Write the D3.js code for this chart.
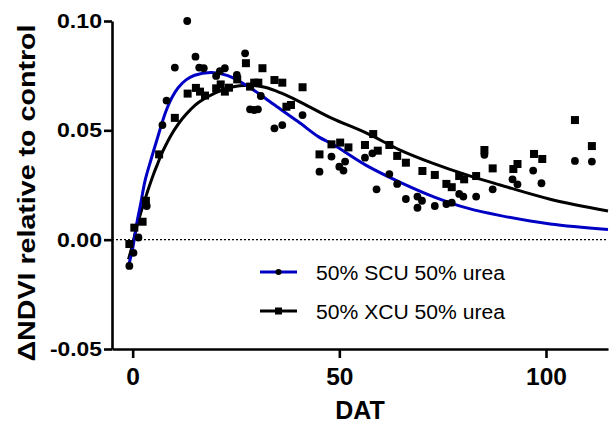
<!DOCTYPE html>
<html>
<head>
<meta charset="utf-8">
<script src="https://cdn.jsdelivr.net/npm/d3@7"></script>
<style>
  html, body { margin: 0; padding: 0; background: #fff; }
  svg { display: block; font-family: "Liberation Sans", Arial, sans-serif; }
</style>
</head>
<body>
<svg id="chart" width="614" height="423"></svg>
<script>
// NDVI difference vs control over days after treatment (DAT)
// 50% SCU 50% urea (circles) and 50% XCU 50% urea (squares), each with a fitted curve.

var scuDat = [-0.8, 0.2, 1.4, 3.4, 7.2, 8.2, 10.2, 13.2, 15.2, 16.1, 17.2, 20.2, 21.1, 22.3, 25.2, 27.2,
  28.4, 29.4, 30.3, 31.0, 34.3, 36.2, 41.1, 45.2, 48.1, 50.0, 51.0, 51.4, 56.2, 58.0, 59.0, 62.1,
  64.0, 66.1, 68.9, 68.9, 70.0, 73.1, 75.9, 77.2, 79.0, 80.0, 83.1, 85.1, 87.1, 91.9, 93.1, 96.9,
  98.9, 107, 111.1];
var scuNdvi = [-0.012, -0.006, 0.001, 0.0154, 0.0524, 0.0636, 0.0787, 0.100, 0.0837, 0.0787, 0.0784,
  0.0749, 0.0771, 0.0784, 0.0753, 0.0852, 0.0596, 0.0593, 0.0596, 0.0657, 0.0509, 0.0524, 0.057,
  0.0311, 0.038, 0.0334, 0.0316, 0.0357, 0.0375, 0.0395, 0.023, 0.030, 0.0255, 0.0186, 0.0197,
  0.0146, 0.0178, 0.0154, 0.0163, 0.0169, 0.0209, 0.0197, 0.0197, 0.0388, 0.023, 0.0276, 0.0253,
  0.0316, 0.0258, 0.036, 0.0357];

var xcuDat = [-0.8, 0.4, 2.4, 3.2, 6.4, 10.2, 13.3, 15.3, 16.3, 17.5, 20.2, 21.3, 22.3, 23.3, 25.3, 27.4,
  28.4, 29.4, 30.4, 31.4, 34.3, 36.2, 37.2, 38.3, 41.1, 45.2, 48.1, 50.2, 52.2, 56.2, 58.2, 59.3,
  62.1, 64.0, 66.1, 70.1, 73.1, 75.9, 77.2, 79.0, 80.2, 83.1, 85.1, 87.1, 92.1, 93.1, 97.1, 99.1,
  107, 111.1];
var xcuNdvi = [-0.002, 0.0055, 0.0082, 0.0178, 0.039, 0.0557, 0.0668, 0.0694, 0.0677, 0.0659, 0.0692, 0.071,
  0.0677, 0.0695, 0.0733, 0.0807, 0.070, 0.0718, 0.0718, 0.0784, 0.073, 0.0718, 0.0608, 0.0616,
  0.0697, 0.039, 0.0436, 0.0444, 0.0422, 0.0433, 0.0483, 0.0407, 0.0433, 0.0383, 0.0352, 0.0314,
  0.0296, 0.0255, 0.024, 0.0291, 0.0276, 0.0291, 0.041, 0.0326, 0.0323, 0.0346, 0.0392, 0.0369,
  0.0547, 0.0428];

// fitted curves
var scuFitDat = [-1, 0, 1, 2, 3, 4.5, 6, 8, 9.5, 11, 13, 15, 19, 23, 28, 34, 40, 45, 48.5, 56.5, 65, 73, 81, 89, 101, 115];
var scuFitNdvi = [-0.012, -0.004, 0.0075, 0.017, 0.027, 0.037, 0.0465, 0.0585, 0.065, 0.0695, 0.0732,
  0.0752, 0.0764, 0.075, 0.070, 0.062, 0.054, 0.047, 0.0435, 0.034, 0.026, 0.0195, 0.0144, 0.011,
  0.0072, 0.0047];

var xcuFitDat = [-1, 0, 1, 2, 3, 4, 5, 6, 7, 8, 10, 12, 14, 16, 20, 24, 28, 32, 36, 40, 48, 56.6, 64.7, 72.7, 80.8, 88.9, 101, 115];
var xcuFitNdvi = [-0.009, -0.002, 0.006, 0.0125, 0.0185, 0.0243, 0.0297, 0.0345, 0.0392, 0.0432,
  0.0500, 0.0553, 0.0595, 0.0628, 0.0671, 0.0698, 0.0706, 0.0697, 0.0670, 0.0635, 0.0557, 0.0487,
  0.041, 0.0349, 0.0296, 0.025, 0.0185, 0.0131];

var xTicks = [0, 50, 100];
var yTicks = [-0.05, 0, 0.05, 0.10];
var seriesNames = ["50% SCU 50% urea", "50% XCU 50% urea"];

var BLUE = "#0000c4", INK = "#000";
var svg = d3.select("#chart");
var M = { t: 21, r: 6, b: 74, l: 112 };
var W = 614, H = 423;

var x = d3.scaleLinear().domain([-5, 115]).range([M.l, W - M.r]);
var y = d3.scaleLinear().domain([-0.05, 0.10]).range([H - M.b, M.t]);

// zero reference line
svg.append("line").attr("x1", x(-5)).attr("x2", x(115)).attr("y1", y(0)).attr("y2", y(0))
  .attr("stroke", INK).attr("stroke-width", 1.2).attr("stroke-dasharray", "2,2");

// fitted curves
var line = d3.line().x(function (d) { return x(d[0]); }).y(function (d) { return y(d[1]); })
  .curve(d3.curveCatmullRom.alpha(0.5));
svg.append("path").attr("d", line(d3.zip(xcuFitDat, xcuFitNdvi)))
  .attr("fill", "none").attr("stroke", INK).attr("stroke-width", 3);
svg.append("path").attr("d", line(d3.zip(scuFitDat, scuFitNdvi)))
  .attr("fill", "none").attr("stroke", BLUE).attr("stroke-width", 3);

// points
var S = 8;
svg.append("g").selectAll("rect").data(d3.zip(xcuDat, xcuNdvi)).join("rect")
  .attr("x", function (d) { return x(d[0]) - S / 2; }).attr("y", function (d) { return y(d[1]) - S / 2; })
  .attr("width", S).attr("height", S).attr("fill", INK);
svg.append("g").selectAll("circle").data(d3.zip(scuDat, scuNdvi)).join("circle")
  .attr("cx", function (d) { return x(d[0]); }).attr("cy", function (d) { return y(d[1]); })
  .attr("r", 3.9).attr("fill", INK);

// axes
var gy = svg.append("g").attr("transform", "translate(" + M.l + ",0)")
  .call(d3.axisLeft(y).tickValues(yTicks).tickSize(8).tickSizeOuter(0)
    .tickFormat(function (d) { return d3.format(".2f")(d).replace("−", "-"); }));
var gx = svg.append("g").attr("transform", "translate(0," + (H - M.b) + ")")
  .call(d3.axisBottom(x).tickValues(xTicks).tickSize(9).tickSizeOuter(0));
[gx, gy].forEach(function (g) {
  g.select(".domain").attr("stroke", INK).attr("stroke-width", 2.6);
  g.selectAll(".tick line").attr("stroke", INK).attr("stroke-width", 2.6);
  g.selectAll("text").attr("fill", INK).style("font-weight", "bold")
    .style("font-family", "'Liberation Sans', Arial, sans-serif");
});
gy.selectAll("text").style("font-size", "20.5px").attr("x", -10)
  .attr("textLength", function (d) { return d < 0 ? 52 : 45; }).attr("lengthAdjust", "spacingAndGlyphs");
gx.selectAll("text").style("font-size", "24.5px").attr("y", 36).attr("dy", 0);

// axis titles
svg.append("text").attr("x", (x(-5) + x(115)) / 2).attr("y", 419).attr("text-anchor", "middle")
  .style("font-size", "25px").style("font-weight", "bold").attr("fill", INK).text("DAT");
svg.append("text").attr("transform", "translate(35,193) rotate(-90)").attr("text-anchor", "middle")
  .style("font-size", "23.5px").style("font-weight", "bold").attr("fill", INK)
  .attr("textLength", 337).attr("lengthAdjust", "spacingAndGlyphs")
  .text("\u0394NDVI relative to control");

// legend
var lg = svg.append("g");
[{ c: BLUE, ly: 272, shape: "circle" }, { c: INK, ly: 311, shape: "square" }].forEach(function (s, i) {
  lg.append("line").attr("x1", 260).attr("x2", 297).attr("y1", s.ly).attr("y2", s.ly)
    .attr("stroke", s.c).attr("stroke-width", 3);
  if (s.shape === "circle") {
    lg.append("circle").attr("cx", 278.5).attr("cy", s.ly).attr("r", 3).attr("fill", INK);
  } else {
    lg.append("rect").attr("x", 275).attr("y", s.ly - 3.5).attr("width", 7).attr("height", 7).attr("fill", INK);
  }
  lg.append("text").attr("x", 316).attr("y", s.ly + 8).style("font-size", "19.5px").attr("fill", INK)
    .attr("textLength", 189).attr("lengthAdjust", "spacingAndGlyphs").text(seriesNames[i]);
});
</script>
</body>
</html>
